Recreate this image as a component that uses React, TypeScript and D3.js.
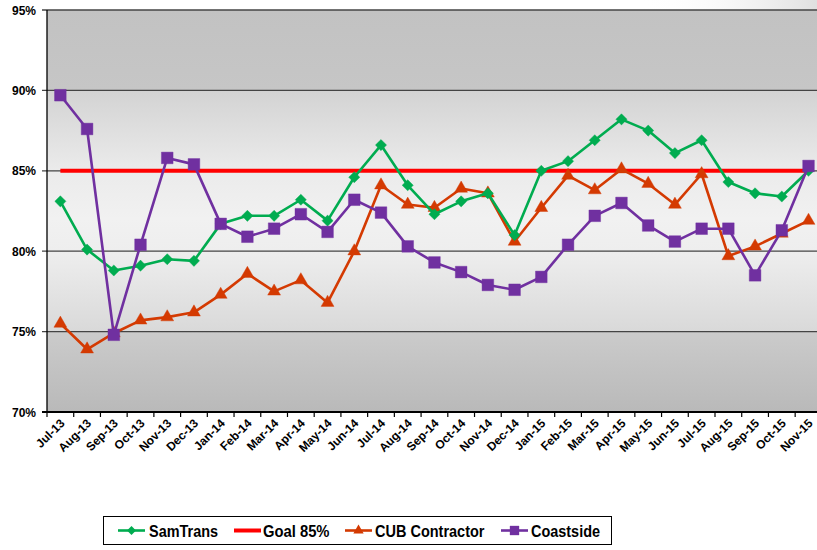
import React from "react";
import * as d3 from "d3";

const months = [
  "Jul-13", "Aug-13", "Sep-13", "Oct-13", "Nov-13", "Dec-13",
  "Jan-14", "Feb-14", "Mar-14", "Apr-14", "May-14", "Jun-14", "Jul-14", "Aug-14", "Sep-14", "Oct-14", "Nov-14", "Dec-14",
  "Jan-15", "Feb-15", "Mar-15", "Apr-15", "May-15", "Jun-15", "Jul-15", "Aug-15", "Sep-15", "Oct-15", "Nov-15",
];

const samTrans = [
  83.1, 80.1, 78.8, 79.1, 79.5, 79.4,
  81.7, 82.2, 82.2, 83.2, 81.9, 84.6, 86.6, 84.1, 82.3, 83.1, 83.6, 81.0,
  85.0, 85.6, 86.9, 88.2, 87.5, 86.1, 86.9, 84.3, 83.6, 83.4, 85.0,
];

const goal = [
  85, 85, 85, 85, 85, 85,
  85, 85, 85, 85, 85, 85, 85, 85, 85, 85, 85, 85,
  85, 85, 85, 85, 85, 85, 85, 85, 85, 85, 85,
];

const cubContractor = [
  75.5, 73.9, 74.9, 75.7, 75.9, 76.2,
  77.3, 78.6, 77.5, 78.2, 76.8, 80.0, 84.1, 82.9, 82.7, 83.9, 83.6, 80.6,
  82.7, 84.7, 83.8, 85.1, 84.2, 82.9, 84.8, 79.7, 80.3, 81.1, 81.9,
];

const coastside = [
  89.7, 87.6, 74.8, 80.4, 85.8, 85.4,
  81.7, 80.9, 81.4, 82.3, 81.2, 83.2, 82.4, 80.3, 79.3, 78.7, 77.9, 77.6,
  78.4, 80.4, 82.2, 83.0, 81.6, 80.6, 81.4, 81.4, 78.5, 81.3, 85.3,
];

const yTicks = [70, 75, 80, 85, 90, 95];
const yTickLabels = ["70%", "75%", "80%", "85%", "90%", "95%"];

const legendLabels = ["SamTrans", "Goal 85%", "CUB Contractor", "Coastside"];

const W = 817;
const H = 550;
const plotLeft = 47;
const plotTop = 10;
const plotBottom = 412;
const bandW = 26.72;
const plotRight = plotLeft + bandW * months.length;

const FONT = "'Liberation Sans', Arial, sans-serif";

type Marker = "diamond" | "none" | "triangle" | "square";

const series: { name: string; values: number[]; color: string; marker: Marker; width: number }[] = [
  { name: legendLabels[1], values: goal, color: "#ff0000", marker: "none", width: 4 },
  { name: legendLabels[2], values: cubContractor, color: "#d43a02", marker: "triangle", width: 2.6 },
  { name: legendLabels[0], values: samTrans, color: "#00ac50", marker: "diamond", width: 2.6 },
  { name: legendLabels[3], values: coastside, color: "#7030a0", marker: "square", width: 2.6 },
];

function markerPath(m: Marker, scale = 1): string {
  if (m === "diamond") return d3.symbol(d3.symbolSquare, 62 * scale * scale)() as string;
  if (m === "triangle") return d3.symbol(d3.symbolTriangle, 72 * scale * scale)() as string;
  if (m === "square") return d3.symbol(d3.symbolSquare, 136 * scale * scale)() as string;
  return "";
}

export default function App() {
  const x = d3.scaleBand<string>().domain(months).range([plotLeft, plotRight]).padding(0);
  const xc = (m: string) => (x(m) as number) + x.bandwidth() / 2;
  const y = d3.scaleLinear().domain([70, 95]).range([plotBottom, plotTop]);

  const line = d3
    .line<number>()
    .x((_, i) => xc(months[i]))
    .y((v) => y(v));

  const off = (v: number) => (y(v) - plotTop) / (plotBottom - plotTop);

  const legendItems = [
    { label: legendLabels[0], color: "#00ac50", marker: "diamond" as Marker, x0: 118, tx: 149, tw: 69, lw: 2.6 },
    { label: legendLabels[1], color: "#ff0000", marker: "none" as Marker, x0: 234, tx: 263, tw: 66.5, lw: 4 },
    { label: legendLabels[2], color: "#d43a02", marker: "triangle" as Marker, x0: 345, tx: 375, tw: 109.5, lw: 2.6 },
    { label: legendLabels[3], color: "#7030a0", marker: "square" as Marker, x0: 501, tx: 531, tw: 69, lw: 2.6 },
  ];
  const legendY = 530.5;

  return (
    <svg
      width={W}
      height={H}
      viewBox={`0 0 ${W} ${H}`}
      style={{ position: "absolute", left: 0, top: 0, display: "block", background: "#fff" }}
    >
      <defs>
        <linearGradient id="plotBg" x1="0" y1={plotTop} x2="0" y2={plotBottom} gradientUnits="userSpaceOnUse">
          <stop offset={0} stopColor="#c2c2c2" />
          <stop offset={off(90)} stopColor="#c6c6c6" />
          <stop offset={off(90) + 0.001} stopColor="#d3d3d3" />
          <stop offset={off(85)} stopColor="#ebebeb" />
          <stop offset={off(82)} stopColor="#f1f1f1" />
          <stop offset={off(80)} stopColor="#eeeeee" />
          <stop offset={off(75)} stopColor="#d9d9d9" />
          <stop offset={off(75) + 0.001} stopColor="#cbcbcb" />
          <stop offset={1} stopColor="#b9b9b9" />
        </linearGradient>
        <linearGradient id="cornerTex" x1="0" y1="0" x2="1" y2="0">
          <stop offset={0} stopColor="#ffffff" stopOpacity={0} />
          <stop offset={1} stopColor="#d8d8d8" stopOpacity={0.8} />
        </linearGradient>
        <clipPath id="plotClip">
          <rect x={plotLeft - 8} y={0} width={W - plotLeft + 8} height={plotBottom + 10} />
        </clipPath>
      </defs>

      <rect x={640} y={0} width={177} height={plotTop} fill="url(#cornerTex)" />

      <rect x={plotLeft} y={plotTop} width={plotRight - plotLeft} height={plotBottom - plotTop} fill="url(#plotBg)" />

      {yTicks.map((t) => (
        <line key={t} x1={plotLeft - 5} x2={plotRight} y1={y(t)} y2={y(t)} stroke={t === 70 ? "#000" : "#444"} strokeWidth={t === 70 ? 2 : 1.3} />
      ))}

      <line x1={plotLeft} x2={plotLeft} y1={plotTop} y2={plotBottom} stroke="#000" strokeWidth={1.3} />
      {yTicks.map((t, i) => (
        <text
          key={t}
          x={36}
          y={y(t) + 4.5}
          textAnchor="end"
          fontFamily={FONT}
          fontWeight="bold"
          fontSize={12}
          fill="#000"
        >
          {yTickLabels[i]}
        </text>
      ))}

      {months.map((m) => (
        <line key={m} x1={x(m) as number} x2={x(m) as number} y1={plotBottom} y2={plotBottom + 5} stroke="#000" strokeWidth={1.2} />
      ))}
      {months.map((m) => (
        <text
          key={m}
          transform={`translate(${xc(m) + 5},${plotBottom + 12}) rotate(-45)`}
          textAnchor="end"
          fontFamily={FONT}
          fontWeight="bold"
          fontSize={12}
          fill="#000"
        >
          {m}
        </text>
      ))}

      <g clipPath="url(#plotClip)">
        {series.map((s) => (
          <g key={s.name}>
            <path d={line(s.values) as string} fill="none" stroke={s.color} strokeWidth={s.width} strokeLinejoin="round" />
            {s.marker !== "none" &&
              s.values.map((v, i) => (
                <path
                  key={i}
                  d={markerPath(s.marker)}
                  transform={`translate(${xc(months[i])},${y(v)})${s.marker === "diamond" ? " rotate(45)" : ""}`}
                  fill={s.color}
                  stroke={s.color}
                  strokeOpacity={0.5}
                  strokeWidth={0.8}
                />
              ))}
          </g>
        ))}
      </g>

      <rect x={103.5} y={516.5} width={508} height={28} fill="#fff" stroke="#000" strokeWidth={1} />
      {legendItems.map((it) => (
        <g key={it.label}>
          <line x1={it.x0} x2={it.x0 + 27} y1={legendY} y2={legendY} stroke={it.color} strokeWidth={it.lw} />
          {it.marker !== "none" && (
            <path
              d={markerPath(it.marker, 0.8)}
              transform={`translate(${it.x0 + 13.5},${legendY})${it.marker === "diamond" ? " rotate(45)" : ""}`}
              fill={it.color}
            />
          )}
          <text
            x={it.tx}
            y={legendY + 6.5}
            fontFamily={FONT}
            fontWeight="bold"
            fontSize={17}
            textLength={it.tw}
            lengthAdjust="spacingAndGlyphs"
            fill="#000"
          >
            {it.label}
          </text>
        </g>
      ))}
    </svg>
  );
}
